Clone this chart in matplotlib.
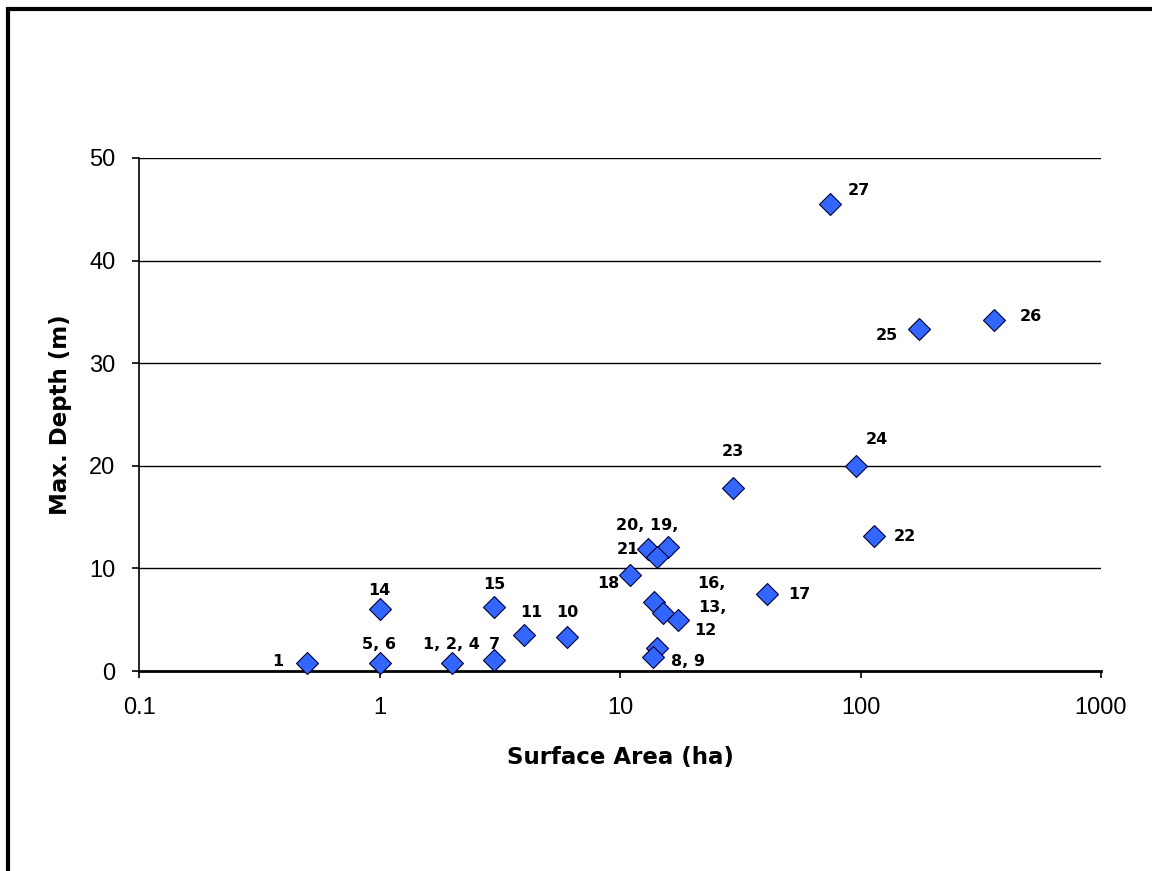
import matplotlib.pyplot as plt
from matplotlib.patches import Rectangle

# площадь (га), макс. глубина (м), подпись
area = [0.5, 1, 1, 2, 3, 3, 4, 6, 11, 13.1, 15.8, 14.3,
        13.8, 15.1, 17.4, 14.3, 13.7, 41, 29.5, 114, 96, 75, 175, 360]
depth = [0.8, 0.8, 6.0, 0.8, 1.1, 6.2, 3.5, 3.3, 9.4, 11.9, 12.1, 11.1,
         6.7, 5.7, 5.0, 2.2, 1.4, 7.5, 17.8, 13.2, 20.0, 45.5, 33.3, 34.2]
labels = ['1', '5, 6', '14', '1, 2, 4', '7', '15', '11', '10', '18', '20, 19,', '', '21',
          '16,', '13,', '12', '', '8, 9', '17', '23', '22', '24', '27', '25', '26']
# смещения подписей в пикселях
offsets = [(-29, 1), (0, 18), (0, 19), (0, 18), (0, 15), (0, 23), (7, 23), (1, 25), (-22, -9),
           (-1, 23), (0, 0), (-29, 8), (58, 19), (49, 5), (27, -11), (0, 0), (35, -5),
           (32, 0), (0, 37), (31, -1), (21, 26), (28, 14), (-32, -6), (37, 4)]

xticks = [0.1, 1, 10, 100, 1000]
xticklabels = ['0.1', '1', '10', '100', '1000']
yticks = [0, 10, 20, 30, 40, 50]

plt.rcParams['font.family'] = ['Liberation Sans', 'DejaVu Sans']

fig = plt.figure(figsize=(11.52, 8.71), dpi=100)
ax = fig.add_axes([139 / 1152, 1 - 671 / 871, 962 / 1152, 513 / 871])

# рамка вокруг рисунка
fig.patches.append(Rectangle((8 / 1152, -0.1), 1.2, 1 - 9 / 871 + 0.1, transform=fig.transFigure,
                             fill=False, edgecolor='black', linewidth=3))

ax.set_xscale('log')
ax.set_xlim(0.1, 1000)
ax.set_ylim(0, 50)
ax.set_xticks(xticks)
ax.set_xticklabels(xticklabels)
ax.minorticks_off()
ax.set_yticks(yticks)

for y in yticks[1:]:
    ax.axhline(y, color='black', linewidth=1, zorder=1)

ax.plot(area, depth, linestyle='none', marker='D', markersize=11.5,
        markerfacecolor='#3366ff', markeredgecolor='#000033', markeredgewidth=0.8, zorder=3,
        clip_on=False)

for x, y, lab, off in zip(area, depth, labels, offsets):
    if lab:
        ax.annotate(lab, (x, y), xytext=off, textcoords='offset pixels', ha='center', va='center',
                    fontsize=11.5, fontweight='bold', color='black', zorder=4, family='DejaVu Sans')

for s in ['top', 'right']:
    ax.spines[s].set_visible(False)
ax.spines['left'].set_linewidth(1.2)
ax.spines['bottom'].set_linewidth(2)
ax.tick_params(axis='both', direction='out', length=5, width=1.2, labelsize=17, colors='black')
ax.tick_params(axis='x', pad=14)
ax.tick_params(axis='y', pad=12)

ax.set_xlabel('Surface Area (ha)', fontsize=16.5, fontweight='bold', va='center', family='DejaVu Sans')
ax.set_ylabel('Max. Depth (m)', fontsize=16.5, fontweight='bold', va='center', family='DejaVu Sans')
ax.xaxis.set_label_coords(0.5, -0.168)
ax.yaxis.set_label_coords(-0.082, 0.5)

plt.savefig('out.png')
